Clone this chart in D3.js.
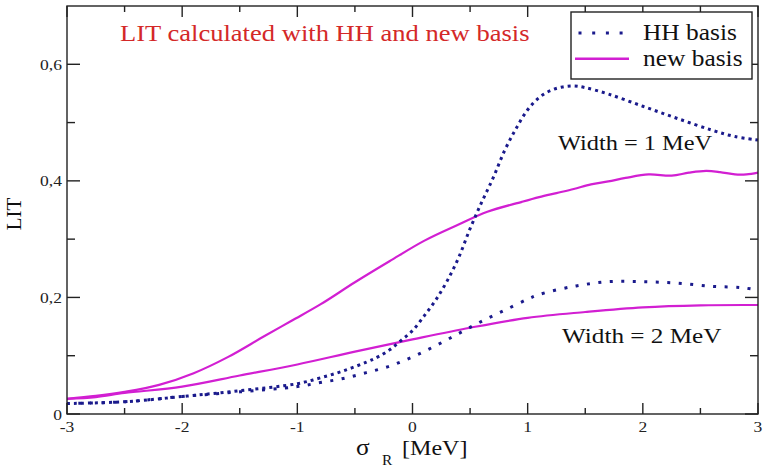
<!DOCTYPE html>
<html>
<head>
<meta charset="utf-8">
<script src="https://cdn.jsdelivr.net/npm/d3@7"></script>
<style>
  html, body { margin: 0; padding: 0; background: #fff; }
  svg, svg text { font-family: "Liberation Serif", "DejaVu Serif", "Times New Roman", serif; }
  svg { display: block; }
</style>
</head>
<body>
<svg id="chart" width="769" height="468"></svg>
<script>
// LIT as a function of sigma_R, HH basis vs. new basis, for two Lorentz widths
const sigmaHH1 = [-3, -2.5, -2, -1.5, -1, -0.8, -0.6, -0.4, -0.3, -0.2, -0.1, 0, 0.1, 0.2, 0.3, 0.4, 0.5, 0.6, 0.7, 0.8, 0.9, 1.0, 1.1, 1.2, 1.3, 1.4, 1.5, 1.7, 2.0, 2.3, 2.6, 2.8, 3.0];
const litHH1   = [0.018, 0.021, 0.030, 0.040, 0.052, 0.062, 0.074, 0.089, 0.098, 0.110, 0.126, 0.143, 0.168, 0.195, 0.228, 0.268, 0.318, 0.363, 0.405, 0.452, 0.490, 0.522, 0.543, 0.555, 0.561, 0.563, 0.560, 0.549, 0.528, 0.507, 0.487, 0.476, 0.470];

const sigmaHH2 = [-3, -2.5, -2, -1.5, -1, -0.8, -0.6, -0.4, -0.2, 0, 0.2, 0.4, 0.6, 0.8, 1.0, 1.1, 1.4, 1.7, 2.0, 2.3, 2.6, 2.85, 3];
const litHH2   = [0.018, 0.021, 0.030, 0.038, 0.047, 0.054, 0.061, 0.071, 0.082, 0.098, 0.117, 0.138, 0.159, 0.178, 0.197, 0.205, 0.219, 0.227, 0.227, 0.2245, 0.219, 0.217, 0.2125];

const sigmaNew1 = [-3, -2.75, -2.5, -2.2, -1.9, -1.6, -1.3, -1.05, -0.8, -0.5, -0.2, 0.1, 0.4, 0.65, 0.95, 1.1, 1.25, 1.4, 1.55, 1.7, 1.85, 2.05, 2.25, 2.4, 2.55, 2.67, 2.8, 2.9, 3];
const litNew1   = [0.026, 0.031, 0.038, 0.050, 0.070, 0.098, 0.132, 0.160, 0.188, 0.226, 0.262, 0.297, 0.325, 0.347, 0.364, 0.372, 0.379, 0.386, 0.394, 0.399, 0.405, 0.411, 0.409, 0.414, 0.417, 0.415, 0.411, 0.411, 0.414];

const sigmaNew2 = [-3, -2.75, -2.5, -2, -1.5, -1, -0.5, 0, 0.5, 1, 1.5, 2, 2.5, 3];
const litNew2   = [0.026, 0.029, 0.036, 0.047, 0.066, 0.085, 0.107, 0.128, 0.148, 0.165, 0.175, 0.183, 0.1865, 0.187];

const xMajor = [-3, -2, -1, 0, 1, 2, 3];
const xMinor = [-2.5, -1.5, -0.5, 0.5, 1.5, 2.5];
const xTickLabels = ["-3", "-2", "-1", "0", "1", "2", "3"];
const yMajor = [0, 0.2, 0.4, 0.6];
const yMinor = [0.1, 0.3, 0.5];
const yTickLabels = ["0", "0,2", "0,4", "0,6"];

const titleText = "LIT calculated with HH and new basis";
const legendLabels = ["HH basis", "new basis"];
const widthNotes = ["Width = 1 MeV", "Width = 2 MeV"];

const HH_COLOR = "#1a1a8c";
const NEW_COLOR = "#d21fd2";
const TITLE_COLOR = "#d42828";
const FONT = "Liberation Serif, DejaVu Serif, serif";
const STRETCH = 1.13;

const svg = d3.select("#chart").attr("font-family", FONT);
const plotLeft = 67, plotRight = 758, plotTop = 6, plotBottom = 414;

const x = d3.scaleLinear().domain([-3, 3]).range([plotLeft, plotRight]);
const y = d3.scaleLinear().domain([0, 0.7]).range([plotBottom, plotTop]);

// widen glyphs slightly, keeping the anchor
function widen(sel, k) {
  sel.each(function () {
    const w = this.getComputedTextLength();
    d3.select(this).attr("textLength", w * k).attr("lengthAdjust", "spacingAndGlyphs");
  });
}

const line = d3.line().curve(d3.curveCatmullRom.alpha(0.5)).x(d => x(d[0])).y(d => y(d[1]));
const zip = (a, b) => a.map((v, i) => [v, b[i]]);

const plot = svg.append("g");
plot.append("path").datum(zip(sigmaNew1, litNew1)).attr("d", line)
  .attr("fill", "none").attr("stroke", NEW_COLOR).attr("stroke-width", 2.2);
plot.append("path").datum(zip(sigmaNew2, litNew2)).attr("d", line)
  .attr("fill", "none").attr("stroke", NEW_COLOR).attr("stroke-width", 2.2);
plot.append("path").datum(zip(sigmaHH1, litHH1)).attr("d", line)
  .attr("fill", "none").attr("stroke", HH_COLOR).attr("stroke-width", 3)
  .attr("stroke-dasharray", "3,4");
plot.append("path").datum(zip(sigmaHH2, litHH2)).attr("d", line)
  .attr("fill", "none").attr("stroke", HH_COLOR).attr("stroke-width", 3)
  .attr("stroke-dasharray", "3,8.5");

// frame with inward ticks on all four sides
const axes = svg.append("g").attr("stroke", "#222").attr("stroke-width", 1.4);
axes.append("rect").attr("x", plotLeft).attr("y", plotTop)
  .attr("width", plotRight - plotLeft).attr("height", plotBottom - plotTop)
  .attr("fill", "none");
const xt = xMajor.map(v => [v, 11]).concat(xMinor.map(v => [v, 6]));
xt.forEach(([v, len]) => {
  axes.append("line").attr("x1", x(v)).attr("x2", x(v)).attr("y1", plotBottom).attr("y2", plotBottom - len);
  axes.append("line").attr("x1", x(v)).attr("x2", x(v)).attr("y1", plotTop).attr("y2", plotTop + len);
});
const yt = yMajor.map(v => [v, 13]).concat(yMinor.map(v => [v, 8]));
yt.forEach(([v, len]) => {
  axes.append("line").attr("y1", y(v)).attr("y2", y(v)).attr("x1", plotLeft).attr("x2", plotLeft + len);
  axes.append("line").attr("y1", y(v)).attr("y2", y(v)).attr("x1", plotRight).attr("x2", plotRight - len);
});

// tick labels
svg.append("g").selectAll("text").data(xMajor).join("text")
  .attr("x", d => x(d)).attr("y", plotBottom + 18).attr("text-anchor", "middle")
  .attr("font-size", 15.5).attr("fill", "#222")
  .text((d, i) => xTickLabels[i]).call(widen, STRETCH);
svg.append("g").selectAll("text").data(yMajor).join("text")
  .attr("x", plotLeft - 5).attr("y", d => y(d) + 5.5).attr("text-anchor", "end")
  .attr("font-size", 15.5).attr("fill", "#222")
  .text((d, i) => yTickLabels[i]).call(widen, STRETCH);

// axis titles: sigma with subscript R, then the unit
const xlab = svg.append("g").attr("fill", "#111");
xlab.append("text").attr("x", 356).attr("y", 455).attr("font-size", 23).text("σ").call(widen, 1.1);
xlab.append("text").attr("x", 382).attr("y", 465).attr("font-size", 14).text("R").call(widen, 1.1);
xlab.append("text").attr("x", 402).attr("y", 455).attr("font-size", 21.5).text("[MeV]").call(widen, 1.12);
svg.append("text").attr("transform", "translate(21,214) rotate(-90)")
  .attr("text-anchor", "middle").attr("font-size", 21).attr("fill", "#111").text("LIT");

// title
svg.append("text").attr("x", 120).attr("y", 41).attr("font-size", 23.5).attr("fill", TITLE_COLOR)
  .text(titleText).call(widen, STRETCH);

// width annotations
svg.append("text").attr("x", 558).attr("y", 149.5).attr("font-size", 21).attr("fill", "#111")
  .text(widthNotes[0]).call(widen, 1.16);
svg.append("text").attr("x", 562).attr("y", 342.5).attr("font-size", 21).attr("fill", "#111")
  .text(widthNotes[1]).call(widen, 1.2);

// legend
const lg = svg.append("g");
lg.append("rect").attr("x", 571).attr("y", 12).attr("width", 181).attr("height", 67)
  .attr("fill", "#fff").attr("stroke", "#222").attr("stroke-width", 1.4);
lg.append("line").attr("x1", 578.5).attr("x2", 628).attr("y1", 33).attr("y2", 33)
  .attr("stroke", HH_COLOR).attr("stroke-width", 3).attr("stroke-dasharray", "3,10.7");
lg.append("line").attr("x1", 575).attr("x2", 629).attr("y1", 58.7).attr("y2", 58.7)
  .attr("stroke", NEW_COLOR).attr("stroke-width", 2.5);
lg.selectAll("text.lab").data(legendLabels).join("text").attr("class", "lab")
  .attr("x", 643).attr("y", (d, i) => 40 + i * 26).attr("font-size", 22.5).attr("fill", "#111")
  .text(d => d).call(widen, STRETCH);
</script>
</body>
</html>
